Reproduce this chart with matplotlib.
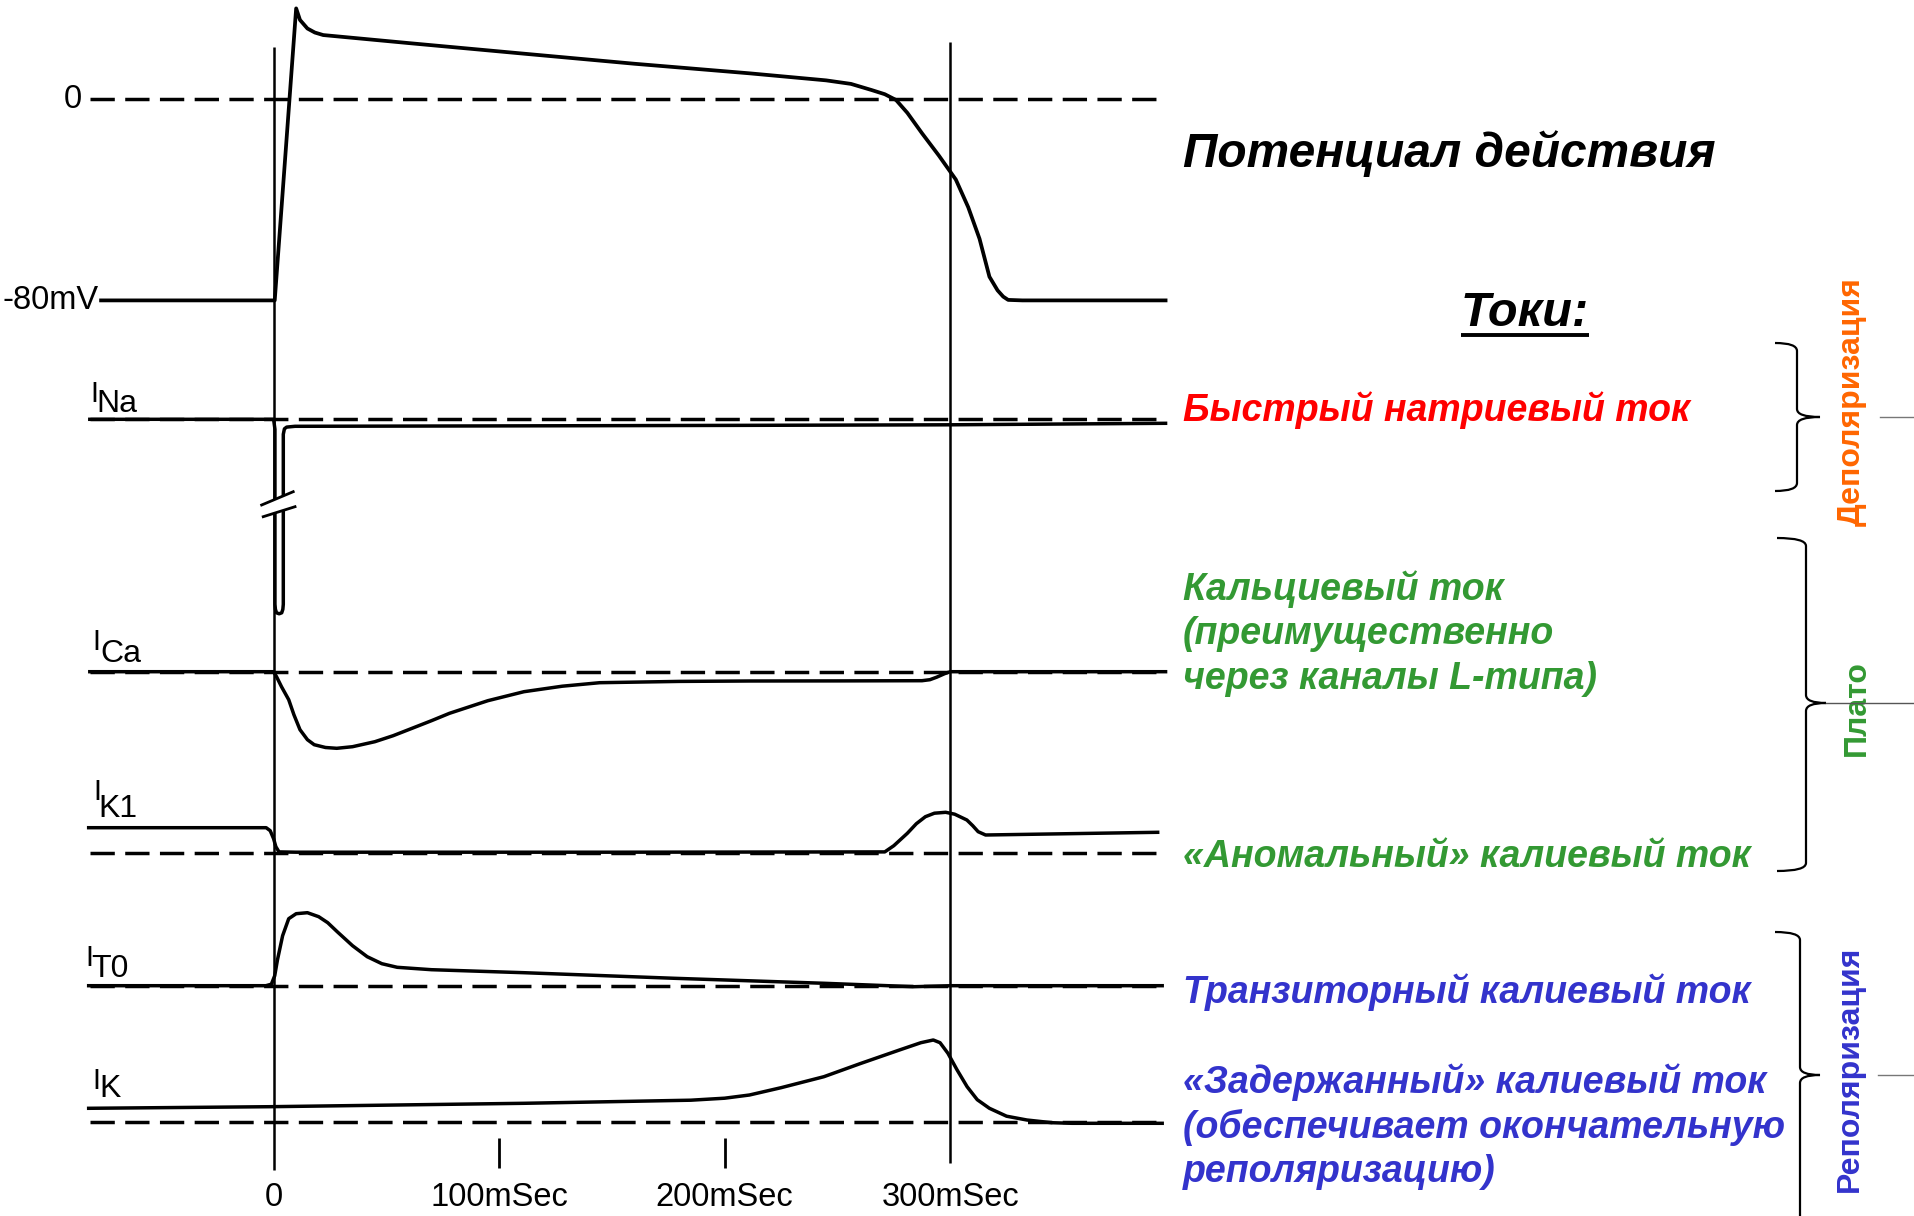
# -*- coding: utf-8 -*-
"""
Action potential of a ventricular myocyte and the ionic currents behind it.
Traces are read off the reference picture (time in ms, AP in mV, currents in a.u.).
"""

import matplotlib.pyplot as plt
from matplotlib.path import Path
from matplotlib.patches import PathPatch, Polygon

plt.rcParams["font.family"] = ["Liberation Sans", "DejaVu Sans"]

# ===== data =====
AP_T = [-76.5, 0.5, 10.0, 11.7, 15.0, 18.3, 22.0, 60.0, 111.0, 160.0, 211.0, 245.0,
        256.0, 265.0, 271.0, 276.0, 281.0, 287.5, 295.0, 302.5, 308.0, 313.0, 317.4,
        321.0, 323.5, 325.7, 332.0, 395.5]
AP_MV = [-80, -80, 36.0, 31.4, 28.0, 26.4, 25.4, 22.2, 18.0, 14.0, 10.2, 7.4,
         6.0, 3.6, 1.9, -0.4, -5.5, -13.6, -22.5, -32.0, -43.0, -55.5, -70.6,
         -76.0, -78.5, -79.8, -80, -80]

NA_T = [-81.5, 0.0, 0.6, 0.6, 0.8, 1.3, 2.45, 3.6, 4.1, 4.3, 4.3, 4.8, 5.8, 9.5,
        100.0, 200.0, 300.0, 395.5]
NA_I = [0, 0, -1.0, -18.5, -19.0, -19.35, -19.45, -19.35, -19.0, -18.5, -1.5, -0.95,
        -0.78, -0.70, -0.66, -0.61, -0.55, -0.40]

CA_T = [-81.5, 0.0, 1.3, 3.5, 6.7, 9.0, 11.7, 15.0, 18.0, 23.0, 28.0, 35.0, 44.9,
        53.0, 61.4, 70.0, 78.0, 95.0, 111.0, 128.0, 144.6, 180.0, 211.0, 250.0,
        287.5, 291.0, 294.0, 297.5, 300.0, 395.5]
CA_I = [0, 0, -0.5, -1.5, -2.8, -4.3, -5.8, -6.8, -7.3, -7.58, -7.66, -7.5, -7.0,
        -6.4, -5.66, -4.9, -4.16, -2.9, -2.0, -1.45, -1.1, -0.97, -0.93, -0.92,
        -0.9, -0.8, -0.55, -0.2, 0, 0]

K1_T = [-82.0, -3.3, -1.5, 0.0, 1.0, 2.4, 10.0, 150.0, 271.0, 275.0, 281.0, 285.0,
        289.0, 293.0, 298.0, 302.0, 307.4, 310.0, 312.4, 315.7, 392.0]
K1_I = [2.5, 2.5, 2.2, 1.4, 0.6, 0.08, 0.05, 0.05, 0.08, 0.7, 1.94, 2.9,
        3.6, 3.95, 4.04, 3.85, 3.27, 2.7, 2.1, 1.77, 2.04]

TO_T = [-82.0, -3.4, -1.0, 0.5, 1.7, 4.0, 6.7, 10.0, 15.0, 20.0, 24.0, 28.2, 35.0,
        41.5, 48.0, 54.8, 70.0, 111.0, 177.8, 244.3, 284.0, 300.8, 394.0]
TO_I = [0, 0, 0.15, 1.0, 2.57, 5.0, 6.7, 7.2, 7.3, 6.9, 6.3, 5.4, 4.0,
        2.9, 2.2, 1.84, 1.6, 1.3, 0.74, 0.24, -0.1, 0, 0]

K_T = [-82.0, -1.6, 111.0, 185.0, 200.0, 211.0, 225.0, 244.0, 260.0, 277.5, 287.0,
       292.5, 295.5, 299.0, 303.0, 307.5, 312.0, 317.4, 325.0, 334.0, 345.0, 354.0, 394.0]
K_I = [1.34, 1.5, 1.84, 2.15, 2.35, 2.67, 3.4, 4.5, 5.8, 7.17, 7.9,
       8.17, 7.9, 6.84, 5.2, 3.5, 2.2, 1.34, 0.55, 0.17, -0.1, -0.16, -0.16]

ZERO_SPAN = [-81.5, 395.5]          # extent of the dashed zero lines [ms]
MARK_T = [0, 300]                   # vertical time markers [ms]
TICK_T = [100, 200]
TICK_LABELS = ["0", "100mSec", "200mSec", "300mSec"]
TICK_LABEL_T = [0, 100, 200, 300]

# ===== layout (pixels of the 1915x1216 picture) =====
W, H = 1915, 1216
T0_PX, PX_PER_MS = 273.6, 2.2553
T_LEFT, T_RIGHT = -T0_PX / PX_PER_MS, (W - T0_PX) / PX_PER_MS

LW = 2.5
DASH = (0, (7.0, 3.0))

fig = plt.figure(figsize=(W / 100, H / 100), dpi=100)


def trace_axes(row0, px_per_unit):
    """Transparent full-figure axes with value 0 at pixel row `row0`."""
    ax = fig.add_axes([0, 0, 1, 1])
    ax.set_xlim(T_LEFT, T_RIGHT)
    ax.set_ylim(-(H - row0) / px_per_unit, row0 / px_per_unit)
    ax.axis("off")
    return ax


# overlay in pixel coordinates for text and braces
ov = fig.add_axes([0, 0, 1, 1])
ov.set_xlim(0, W)
ov.set_ylim(H, 0)
ov.axis("off")

# time axes (x in ms, y in pixel rows)
tax = fig.add_axes([0, 0, 1, 1])
tax.set_xlim(T_LEFT, T_RIGHT)
tax.set_ylim(H, 0)
tax.axis("off")
tax.vlines(MARK_T, [46.7, 41.7], [1170, 1163], color="black", lw=1.8, zorder=2)
tax.vlines(TICK_T, 1138, 1168, color="black", lw=2.0)
for t, lab in zip(TICK_LABEL_T, TICK_LABELS):
    tax.text(t, 1197, lab, ha="center", va="center", fontsize=23.5)

# action potential
ax_ap = trace_axes(99, 2.5175)
ax_ap.plot(ZERO_SPAN, [0, 0], color="black", lw=LW, ls=DASH)
ax_ap.plot(AP_T, AP_MV, color="black", lw=2.7, solid_joinstyle="round")
ax_ap.text(-85, 0, "0", ha="right", va="center", fontsize=23.5)
ax_ap.text(-77.5, -80, "-80mV", ha="right", va="center", fontsize=23.5)

# currents: (baseline row, t, i, subscript, "I" pos, subscript pos)
currents = [
    (419.3, NA_T, NA_I, "Na", (90, 402), (96, 412)),
    (671.7, CA_T, CA_I, "Ca", (92, 650), (100, 662)),
    (852.7, K1_T, K1_I, "K1", (93, 800), (98, 817)),
    (985.7, TO_T, TO_I, "T0", (85, 966), (91, 977)),
    (1121.7, K_T, K_I, "K", (92, 1089), (99, 1097)),
]
for row0, tt, ii, sub, pos_i, pos_sub in currents:
    ax = trace_axes(row0, 10.0)
    ax.plot(ZERO_SPAN, [0, 0], color="black", lw=LW, ls=DASH)
    ax.plot(tt, ii, color="black", lw=LW, solid_joinstyle="round")
    ov.text(*pos_i, "I", fontsize=21, va="baseline", ha="left")
    ov.text(*pos_sub, sub, fontsize=23, va="baseline", ha="left")
    if sub == "Na":
        # axis break on the fast sodium spike
        ax.add_patch(Polygon([(-5.3, -8.57), (8.7, -7.24), (9.5, -8.74), (-4.6, -9.74)],
                             closed=True, fc="white", ec="none", zorder=5))
        ax.plot([-5.3, 8.7], [-8.57, -7.24], color="black", lw=2.0, zorder=6)
        ax.plot([-4.6, 9.5], [-9.74, -8.74], color="black", lw=2.0, zorder=6)
        ax.set_zorder(3)

# ===== text block on the right =====
ov.text(1183, 154, "Потенциал действия", fontsize=34.5, fontweight="bold",
        fontstyle="italic", va="center", ha="left")
tok = ov.text(1525, 313, "Токи:", fontsize=35, fontweight="bold",
              fontstyle="italic", va="center", ha="center")
fig.canvas.draw()
bb = tok.get_window_extent().transformed(ov.transData.inverted())
ov.plot([bb.x0, bb.x1], [335, 335], color="black", lw=2.8, solid_capstyle="butt")

RED, GREEN, BLUE, ORANGE = "#FF0000", "#339933", "#3333CC", "#FF6600"
lines = [
    (410, "Быстрый натриевый ток", RED),
    (589, "Кальциевый ток", GREEN),
    (634, "(преимущественно", GREEN),
    (679, "через каналы L-типа)", GREEN),
    (857, "«Аномальный» калиевый ток", GREEN),
    (992, "Транзиторный калиевый ток", BLUE),
    (1082, "«Задержанный» калиевый ток", BLUE),
    (1127, "(обеспечивает окончательную", BLUE),
    (1172, "реполяризацию)", BLUE),
]
for row, txt, col in lines:
    ov.text(1183, row, txt, fontsize=27, fontweight="bold", fontstyle="italic",
            color=col, va="center", ha="left")


def brace(x_left, x_spine, x_tip, y_top, y_tip, y_bot, r=8):
    verts = [(x_left, y_top), (x_spine, y_top), (x_spine, y_top + r),
             (x_spine, y_tip - r), (x_spine, y_tip), (x_tip, y_tip),
             (x_spine, y_tip), (x_spine, y_tip + r),
             (x_spine, y_bot - r), (x_spine, y_bot), (x_left, y_bot)]
    codes = [Path.MOVETO, Path.CURVE3, Path.CURVE3,
             Path.LINETO, Path.CURVE3, Path.CURVE3,
             Path.CURVE3, Path.CURVE3,
             Path.LINETO, Path.CURVE3, Path.CURVE3]
    ov.add_patch(PathPatch(Path(verts, codes), fc="none", ec="black", lw=1.6))


brace(1775, 1797, 1820, 343, 417, 491)
brace(1777, 1806, 1826, 538, 703, 871)
brace(1775, 1800, 1820, 932, 1075, 1240)

ov.plot([1880, W], [417, 417], color="#777777", lw=1.0)
ov.plot([1826, W], [703, 703], color="#555555", lw=1.0, zorder=4)
ov.plot([1878, W], [1075, 1075], color="#777777", lw=1.0)

ov.text(1852, 402, "Деполяризация", rotation=90, fontsize=23, fontweight="bold",
        color=ORANGE, ha="center", va="center")
ov.text(1857, 708, "Плато", rotation=90, fontsize=23, fontweight="bold",
        color=GREEN, ha="center", va="center")
ov.text(1850, 1069, "Реполяризация", rotation=90, fontsize=23, fontweight="bold",
        color=BLUE, ha="center", va="center")

fig.savefig("out.png", dpi=100)
